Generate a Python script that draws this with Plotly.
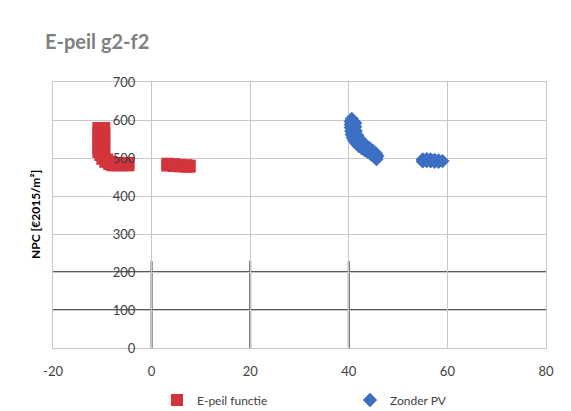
import plotly.graph_objects as go

# E-peil functie (red squares)
red_x = [-10.8, -10.8, -10.8, -10.8, -10.8, -10.8,
         -9.6, -9.6, -9.6, -9.6, -9.6, -9.6, -9.6,
         -10.4, -10.0, -9.4, -8.6, -7.6,
         -9.0, -8.2, -7.2,
         -8.0, -7.0, -6.0, -5.0, -4.7,
         -8.0, -7.0, -6.0, -5.0, -4.7,
         3.2, 3.2, 4.5, 4.5, 5.8, 5.8, 7.0, 7.0, 7.7, 7.7]
red_y = [579, 566, 553, 540, 527, 516,
         579, 566, 553, 540, 527, 514, 502,
         508, 498, 490, 484, 481,
         496, 490, 486,
         487, 487, 487, 487, 487,
         481, 481, 481, 481, 481,
         485, 480, 484, 479, 482, 478, 481, 477, 480, 477]

# Zonder PV (blue diamonds)
blue_x = [40.6, 40.4, 40.4, 40.4, 40.5, 40.6, 40.8, 41.1, 41.5, 42.0, 42.6, 43.2, 43.8, 44.4, 45.0, 45.4, 45.6,
          41.3, 41.3, 41.4, 41.7, 42.2, 42.8, 43.5, 44.2, 44.9, 45.5, 45.8,
          55.0, 55.0, 55.8, 55.8, 56.6, 56.6, 57.4, 57.4, 58.2, 58.2, 59.0]
blue_y = [603, 596, 588, 580, 571, 562, 554, 546, 539, 532, 526, 521, 516, 511, 506, 501, 497,
          592, 582, 571, 560, 550, 541, 533, 526, 519, 512, 505,
          496, 491, 497, 492, 496, 491, 495, 490, 494, 490, 492]

x_ticks = [-20, 0, 20, 40, 60, 80]
x_labels = ["-20", "0", "20", "40", "60", "80"]
y_ticks = [0, 100, 200, 300, 400, 500, 600, 700]

fig = go.Figure()
fig.add_trace(go.Scatter(x=red_x, y=red_y, mode="markers", name="E-peil functie",
                         marker=dict(symbol="square", size=12, color="#D3343C")))
fig.add_trace(go.Scatter(x=blue_x, y=blue_y, mode="markers", name="Zonder PV",
                         marker=dict(symbol="diamond", size=11, color="#3C6FC4")))

dark = "#5a5a5a"
shapes = []
for yv in [100, 200]:
    shapes.append(dict(type="line", xref="x", yref="y", x0=-20, x1=80, y0=yv, y1=yv,
                       line=dict(color=dark, width=2), layer="below"))
for xv in [0, 20, 40]:
    shapes.append(dict(type="line", xref="x", yref="y", x0=xv, x1=xv, y0=0, y1=229,
                       line=dict(color=dark, width=2), layer="below"))

fig.update_layout(
    width=571, height=411,
    margin=dict(l=53, r=25, t=82, b=63, autoexpand=False),
    paper_bgcolor="white", plot_bgcolor="white",
    font=dict(family="Lato, Noto Sans, sans-serif", color="#404040"),
    title=dict(text="<b>E-peil g2-f2</b>", x=45/571, xanchor="left", xref="container",
               y=1-42/411, yanchor="middle", yref="container",
               font=dict(size=20, color="#808080")),
    xaxis=dict(range=[-20, 80], tickvals=x_ticks, ticktext=x_labels, showgrid=True, gridcolor="#c8c8c8",
               zeroline=False, showline=True, linecolor="#c8c8c8", mirror=True,
               ticks="", ticklabelstandoff=11, tickfont=dict(size=13, color="#404040")),
    yaxis=dict(range=[0, 700], tickvals=y_ticks, showgrid=True, gridcolor="#c8c8c8",
               zeroline=False, showline=True, linecolor="#c8c8c8", mirror=True,
               ticks="", ticklabelposition="outside", ticklabelstandoff=-86,
               tickfont=dict(size=13, color="#404040")),
    legend=dict(orientation="h", x=157/571, xanchor="left", xref="container",
                y=(348-400)/266, yanchor="middle", yref="paper",
                font=dict(size=12, color="#404040"), entrywidth=148, entrywidthmode="pixels"),
    shapes=shapes,
    annotations=[dict(text="<b>NPC [€2015/m²]</b>", textangle=-90, xref="paper", yref="paper",
                      x=0, y=0.5, xshift=-18, showarrow=False, xanchor="center", yanchor="middle",
                      font=dict(size=12, color="#000000"))],
)

fig.write_html("out.html")
